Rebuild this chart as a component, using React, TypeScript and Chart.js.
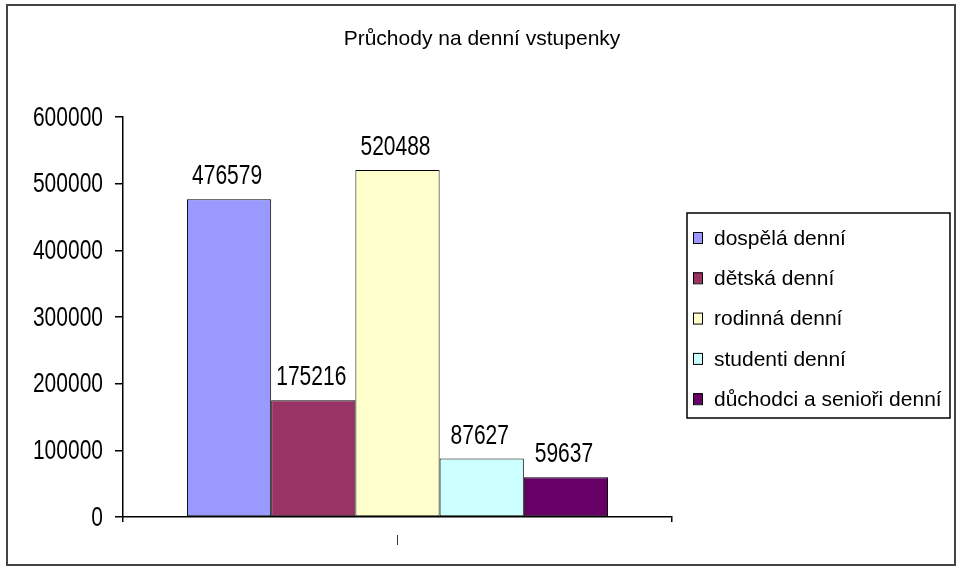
import React, { useEffect, useRef } from "react";
import { Chart, registerables } from "chart.js";

Chart.register(...registerables);

const TITLE = "Průchody na denní vstupenky";
const categories = ["|"];
const seriesNames = [
  "dospělá denní",
  "dětská denní",
  "rodinná denní",
  "studenti denní",
  "důchodci a senioři denní",
];
const seriesValues = [476579, 175216, 520488, 87627, 59637];
const seriesColors = ["#9999FF", "#993366", "#FFFFCC", "#CCFFFF", "#660066"];
const yMin = 0;
const yMax = 600000;
const yStep = 100000;

const TXT_FONT = '"Liberation Sans", Arial, sans-serif';
const NUM_SIZE = 21;
const NUM_STRETCH = 1.3;

const framePlugin = {
  id: "frame",
  beforeDraw(chart: any) {
    const ctx = chart.ctx;
    ctx.save();
    ctx.fillStyle = "#ffffff";
    ctx.fillRect(0, 0, chart.width, chart.height);
    ctx.strokeStyle = "#444444";
    ctx.lineWidth = 2;
    ctx.strokeRect(7, 5, 948, 560);
    ctx.fillStyle = "#000";
    ctx.font = "21px " + TXT_FONT;
    ctx.textAlign = "center";
    ctx.textBaseline = "middle";
    ctx.fillText(chart.options.plugins.customTitle.text, 482, 39);
    ctx.restore();
  },
};

function stretchedText(ctx: any, text: string, x: number, y: number) {
  ctx.save();
  ctx.translate(x, y);
  ctx.scale(1, NUM_STRETCH);
  ctx.fillText(text, 0, 0);
  ctx.restore();
}

const yLabelPlugin = {
  id: "yLabels",
  afterDraw(chart: any) {
    const ctx = chart.ctx;
    const scale = chart.scales.y;
    ctx.save();
    ctx.font = NUM_SIZE + "px " + TXT_FONT;
    ctx.fillStyle = "#000";
    ctx.textAlign = "right";
    ctx.textBaseline = "middle";
    scale.ticks.forEach((t: any) => {
      const y = scale.getPixelForValue(t.value);
      stretchedText(ctx, String(t.value), scale.right - 20, y + 1);
    });
    ctx.restore();
  },
};

const valueLabelPlugin = {
  id: "valueLabels",
  afterDatasetsDraw(chart: any) {
    const ctx = chart.ctx;
    ctx.save();
    ctx.font = NUM_SIZE + "px " + TXT_FONT;
    ctx.fillStyle = "#000";
    ctx.textAlign = "center";
    ctx.textBaseline = "alphabetic";
    chart.data.datasets.forEach((ds: any, i: number) => {
      const meta = chart.getDatasetMeta(i);
      meta.data.forEach((bar: any, j: number) => {
        stretchedText(ctx, String(ds.data[j]), bar.x - 2, bar.y - 15);
      });
    });
    ctx.restore();
  },
};

const legendBoxPlugin = {
  id: "legendBox",
  afterDraw(chart: any) {
    const ctx = chart.ctx;
    const left = chart.chartArea.right + 15;
    const top = 213;
    const w = 263;
    const h = 205;
    ctx.save();
    ctx.fillStyle = "#fff";
    ctx.fillRect(left, top, w, h);
    ctx.strokeStyle = "#000";
    ctx.lineWidth = 1.5;
    ctx.strokeRect(left, top, w, h);
    ctx.font = "21px " + TXT_FONT;
    ctx.textBaseline = "middle";
    ctx.textAlign = "left";
    chart.data.datasets.forEach((ds: any, i: number) => {
      const cy = top + 25 + i * 40.3;
      ctx.fillStyle = ds.backgroundColor;
      ctx.fillRect(left + 6, cy - 6, 9, 11);
      ctx.strokeStyle = "#000";
      ctx.lineWidth = 1;
      ctx.strokeRect(left + 6.5, cy - 5.5, 9, 11);
      ctx.fillStyle = "#000";
      ctx.fillText(ds.label, left + 27, cy + 1);
    });
    ctx.restore();
  },
};

export default function App() {
  const ref = useRef<HTMLCanvasElement>(null);
  useEffect(() => {
    if (!ref.current) return;
    const chart = new Chart(ref.current, {
      type: "bar",
      data: {
        labels: categories,
        datasets: seriesNames.map((name, i) => ({
          label: name,
          data: [seriesValues[i]],
          backgroundColor: seriesColors[i],
          borderColor: "#000",
          borderWidth: 1,
          borderSkipped: false,
          categoryPercentage: 0.767,
          barPercentage: 1,
        })),
      },
      options: {
        animation: false,
        responsive: false,
        devicePixelRatio: 1,
        layout: { padding: { left: 0, right: 288, top: 117, bottom: 0 } },
        plugins: {
          legend: { display: false },
          tooltip: { enabled: false },
          title: { display: false },
          customTitle: { text: TITLE },
        },
        scales: {
          x: {
            type: "category",
            offset: true,
            grid: {
              display: true,
              drawOnChartArea: false,
              offset: true,
              tickLength: 5,
              color: "#000",
              lineWidth: 1.5,
            },
            border: { display: true, color: "#000", width: 1.5 },
            ticks: {
              color: "#000",
              font: { family: TXT_FONT, size: 10 },
              padding: 12,
            },
            afterFit(s: any) {
              s.height = 51;
            },
          },
          y: {
            min: yMin,
            max: yMax,
            ticks: {
              display: false,
              stepSize: yStep,
            },
            grid: {
              drawOnChartArea: false,
              drawTicks: true,
              tickLength: 8,
              color: "#000",
              lineWidth: 1.5,
            },
            border: { display: true, color: "#000", width: 1.5 },
            afterFit(s: any) {
              s.width = 123;
            },
          },
        },
      },
      plugins: [framePlugin, valueLabelPlugin, yLabelPlugin, legendBoxPlugin],
    } as any);
    return () => chart.destroy();
  }, []);
  return (
    <div style={{ position: "fixed", left: 0, top: 0, width: 960, height: 568, background: "#fff" }}>
      <canvas ref={ref} width={960} height={568} style={{ display: "block", width: 960, height: 568 }} />
    </div>
  );
}
